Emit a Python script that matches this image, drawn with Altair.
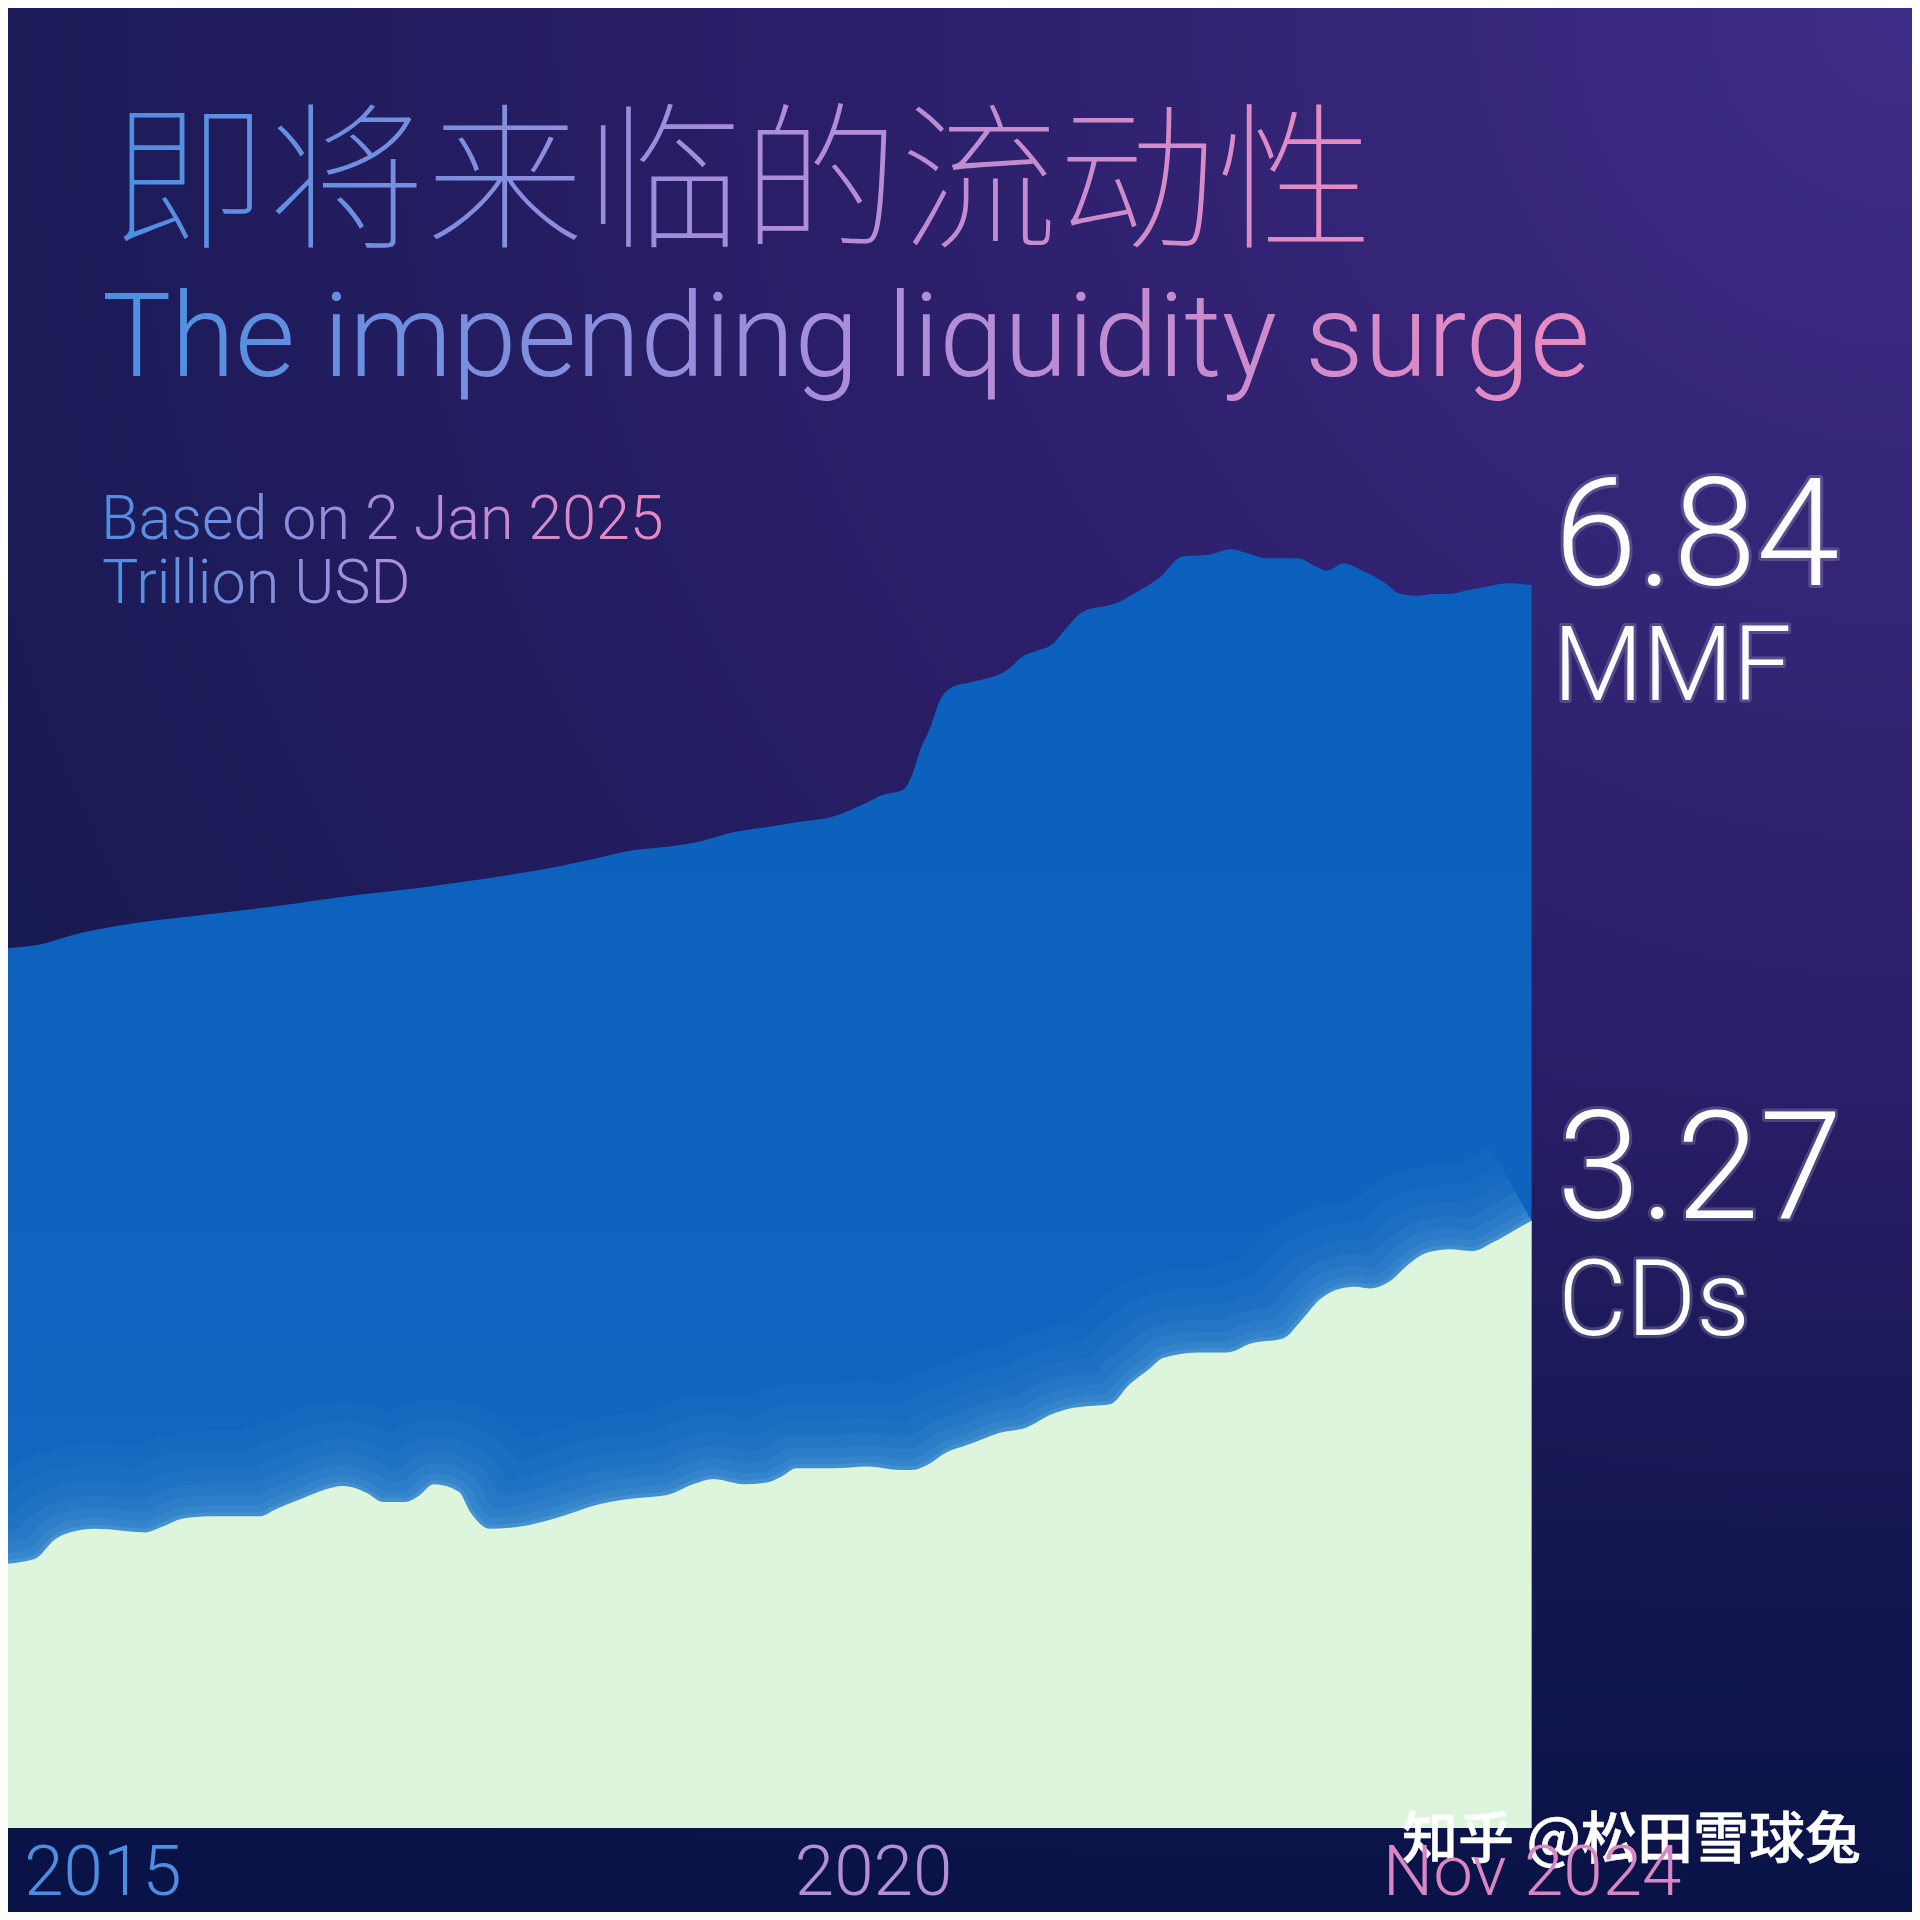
import altair as alt
import pandas as pd

# ---------------- data ----------------
MMF_YEAR = [2013.60, 2013.88, 2014.16, 2014.58, 2015.00, 2015.56, 2016.12, 2016.68, 2017.24, 2017.70,
            2018.00, 2018.24, 2018.49, 2018.73, 2018.97, 2019.22, 2019.46, 2019.71, 2019.96, 2020.07,
            2020.22, 2020.29, 2020.34, 2020.42, 2020.49, 2020.59, 2020.69, 2020.81, 2020.98, 2021.10,
            2021.20, 2021.32, 2021.42, 2021.54, 2021.79, 2021.91, 2022.10, 2022.27, 2022.47, 2022.62,
            2022.74, 2022.89, 2023.11, 2023.26, 2023.33, 2023.45, 2023.59, 2023.74, 2023.87, 2023.99,
            2024.11, 2024.23, 2024.36, 2024.50, 2024.65, 2024.83]
MMF_VALUE = [4.80, 4.82, 4.88, 4.94, 4.98, 5.03, 5.09, 5.14, 5.20, 5.26,
             5.31, 5.35, 5.37, 5.40, 5.45, 5.48, 5.51, 5.54, 5.62, 5.66,
             5.69, 5.78, 5.90, 6.04, 6.19, 6.27, 6.29, 6.31, 6.36, 6.44,
             6.47, 6.51, 6.60, 6.69, 6.74, 6.79, 6.88, 7.00, 7.01, 7.04,
             7.02, 6.99, 6.99, 6.94, 6.92, 6.96, 6.92, 6.86, 6.79, 6.78,
             6.79, 6.79, 6.81, 6.83, 6.85, 6.84]

CDS_YEAR = [2013.60, 2013.85, 2014.00, 2014.07, 2014.30, 2014.66, 2014.78, 2014.95, 2015.17, 2015.50,
            2015.62, 2015.78, 2016.12, 2016.29, 2016.41, 2016.57, 2016.66, 2016.78, 2016.96, 2017.05,
            2017.19, 2017.39, 2017.67, 2018.00, 2018.24, 2018.49, 2018.68, 2018.83, 2018.97, 2019.05,
            2019.22, 2019.32, 2019.44, 2019.71, 2019.96, 2020.20, 2020.29, 2020.40, 2020.54, 2020.69,
            2020.93, 2021.13, 2021.30, 2021.47, 2021.59, 2021.74, 2021.88, 2022.03, 2022.13, 2022.40,
            2022.60, 2022.77, 2023.01, 2023.13, 2023.28, 2023.43, 2023.54, 2023.65, 2023.79, 2023.92,
            2024.06, 2024.23, 2024.40, 2024.55, 2024.69, 2024.83]
CDS_VALUE = [1.34, 1.37, 1.48, 1.51, 1.54, 1.52, 1.55, 1.60, 1.61, 1.61,
             1.65, 1.70, 1.78, 1.74, 1.69, 1.69, 1.72, 1.79, 1.75, 1.63,
             1.54, 1.55, 1.60, 1.68, 1.71, 1.73, 1.79, 1.82, 1.80, 1.79,
             1.80, 1.83, 1.88, 1.88, 1.89, 1.87, 1.87, 1.90, 1.97, 2.01,
             2.08, 2.11, 2.18, 2.22, 2.23, 2.24, 2.35, 2.44, 2.50, 2.53,
             2.53, 2.58, 2.61, 2.70, 2.83, 2.89, 2.90, 2.89, 2.93, 3.02,
             3.09, 3.11, 3.10, 3.15, 3.21, 3.27]

SERIES_NAMES = ["MMF", "CDs"]
TITLE_CN = "即将来临的流动性"
TITLE_EN = "The impending liquidity surge"
NOTE_LINES = ["Based on 2 Jan 2025", "Trillion USD"]
TICK_VALUES = [2015, 2020, 2024.83]
TICK_LABELS = ["2015", "2020", "Nov 2024"]
TICK_COLORS = ["#4d8ee0", "#b28fd8", "#d986c4"]
TICK_ALIGN = ["right", "center", "center"]
WATERMARK = "知乎 @松田雪球兔"

# ---------------- layout ----------------
X_DOMAIN = [2013.656, 2024.833]
Y_DOMAIN = [-0.14, 10.08]
W, H = 1524, 1820
CANVAS = 1904
LATIN = "Roboto, 'Noto Sans', sans-serif"
CJK_THIN = "'Noto Sans CJK SC Thin', 'Noto Sans CJK SC Light', 'Noto Sans CJK SC DemiLight', 'Noto Sans CJK SC', sans-serif"
CJK = "'Noto Sans CJK SC', 'Noto Sans', sans-serif"


def lin(stops, x1=0, y1=0, x2=1, y2=0):
    return alt.LinearGradient(gradient="linear",
                              stops=[alt.GradientStop(offset=o, color=c) for o, c in stops],
                              x1=x1, y1=y1, x2=x2, y2=y2)


TEXT_GRAD = [(0, "#4a8fe2"), (0.5, "#a98ddb"), (1, "#e98ac0")]

mmf_df = pd.DataFrame({"year": MMF_YEAR, "value": MMF_VALUE})
cds_df = pd.DataFrame({"year": CDS_YEAR, "value": CDS_VALUE})

n = len(TICK_VALUES)
label_expr = "[" + ",".join(f"'{l}'" for l in TICK_LABELS) + "][indexof([" + \
    ",".join(str(v) for v in TICK_VALUES) + "], datum.value)]"
label_color = {"condition": [{"test": f"datum.value == {TICK_VALUES[i]}", "value": TICK_COLORS[i]}
                             for i in range(n - 1)], "value": TICK_COLORS[-1]}
label_align = {"condition": [{"test": f"datum.value == {TICK_VALUES[i]}", "value": TICK_ALIGN[i]}
                             for i in range(n - 1)], "value": TICK_ALIGN[-1]}
label_offset = {"condition": {"test": f"datum.value == {TICK_VALUES[0]}", "value": -10}, "value": 0}

x_enc = alt.X("year:Q",
              scale=alt.Scale(domain=X_DOMAIN, nice=False, zero=False),
              axis=alt.Axis(values=TICK_VALUES, labelExpr=label_expr, labelColor=label_color,
                            labelAlign=label_align, labelOffset=label_offset,
                            labelFont=LATIN, labelFontWeight=300,
                            labelFontSize=71, labelBaseline="top", labelPadding=10,
                            labelLimit=0,
                            ticks=False, tickSize=0, domain=False, grid=False, zindex=5,
                            labelFlush=False, labelOverlap=False, title=None))
y_enc = alt.Y("value:Q", scale=alt.Scale(domain=Y_DOMAIN, nice=False, zero=False), axis=None)

one = alt.Data(values=[{"k": 1}])

bg = alt.Chart(one).mark_rect(
    fill=alt.RadialGradient(gradient="radial",
                            stops=[alt.GradientStop(offset=0, color="#3f2c86"),
                                   alt.GradientStop(offset=0.4, color="#2a1e68"),
                                   alt.GradientStop(offset=0.75, color="#191a54"),
                                   alt.GradientStop(offset=1, color="#121850")],
                            x1=1, y1=0, r1=0, x2=1, y2=0, r2=1.45)
).encode(x=alt.value(0), x2=alt.value(CANVAS), y=alt.value(0), y2=alt.value(CANVAS))

bg2 = alt.Chart(one).mark_rect(
    fill=lin([(0, "rgba(10,20,72,0)"), (0.55, "rgba(10,20,72,0)"), (1, "rgba(8,18,70,0.92)")],
             0, 0, 0, 1)
).encode(x=alt.value(0), x2=alt.value(CANVAS), y=alt.value(0), y2=alt.value(CANVAS))

mmf = alt.Chart(mmf_df).mark_area(
    interpolate="monotone", clip=True,
    fill=lin([(0, "#0c60bd"), (0.6, "#0e64be"), (1, "#1a6fc0")], 0, 0, 0, 1)
).encode(x=x_enc, y=y_enc, y2=alt.datum(Y_DOMAIN[0]))

glows = [
    alt.Chart(cds_df).mark_line(interpolate="monotone", clip=True, color="#7cc0e8",
                                strokeWidth=w, opacity=o, strokeJoin="round", strokeCap="butt")
    .encode(x=x_enc, y=y_enc)
    for w, o in [(170, 0.045), (130, 0.05), (95, 0.06), (66, 0.07), (42, 0.09), (22, 0.12), (8, 0.2)]
]

cds = alt.Chart(cds_df).mark_area(
    interpolate="monotone", clip=True, color="#dcf5dc"
).encode(x=x_enc, y=y_enc, y2=alt.datum(Y_DOMAIN[0]))


def txt(text, x, y, size, fill, font=LATIN, weight=300, **kw):
    return alt.Chart(alt.Data(values=[{"t": text}])).mark_text(
        align="left", baseline="alphabetic", font=font, fontSize=size,
        fontWeight=weight, fill=fill, **kw
    ).encode(x=alt.value(x), y=alt.value(y), text="t:N")


def glow_txt(text, x, y, size):
    return txt(text, x, y, size, "#fdfdff", stroke="#ffffff", strokeWidth=6,
               strokeOpacity=0.18, strokeJoin="round")


texts = [
    txt(TITLE_CN, 102, 228, 158, lin(TEXT_GRAD), font=CJK_THIN, weight=200),
    txt(TITLE_EN, 94, 368, 116, lin(TEXT_GRAD)),
    txt(NOTE_LINES[0], 93, 531, 61, lin(TEXT_GRAD)),
    txt(NOTE_LINES[1], 94, 595, 61, lin([(0, "#4a8fe2"), (1, "#b08fd8")])),
    glow_txt(f"{MMF_VALUE[-1]:.2f}", 1546, 577, 150),
    glow_txt(SERIES_NAMES[0], 1545, 692, 104),
    glow_txt(f"{CDS_VALUE[-1]:.2f}", 1549, 1210, 150),
    glow_txt(SERIES_NAMES[1], 1550, 1327, 106),
    txt(WATERMARK, 1394, 1850, 56, "#ffffff", font=CJK, weight=500,
        stroke="#ffffff", strokeWidth=0.5),
]

chart = alt.layer(bg, bg2, mmf, *glows, cds, *texts).properties(
    width=W, height=H,
    padding={"left": 0, "top": 0, "right": CANVAS - W, "bottom": CANVAS - H},
    autosize=alt.AutoSizeParams(type="none"),
    background="#0c1548",
).configure_view(stroke=None)

chart.save("out.html", embed_options={"renderer": "svg", "actions": False})
